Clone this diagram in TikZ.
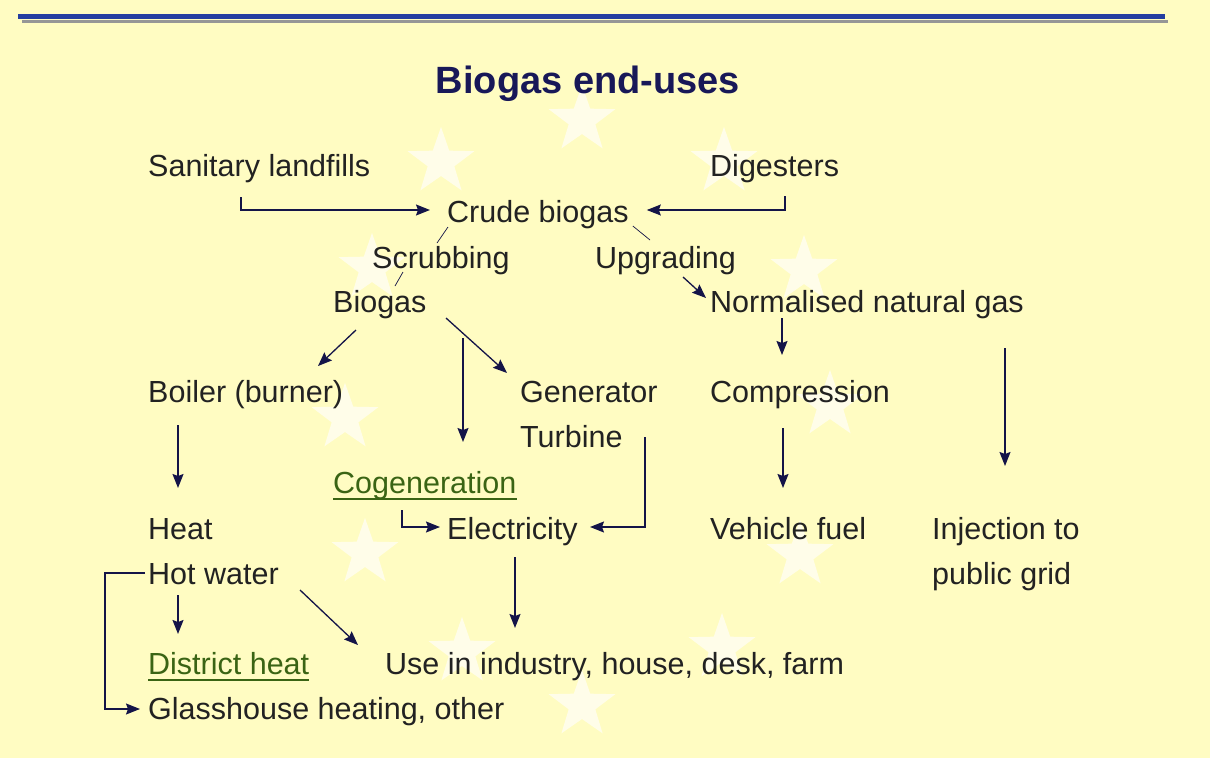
\documentclass[tikz,border=0pt]{standalone}
\usepackage{fontspec}
\setmainfont{Liberation Sans}
\usetikzlibrary{arrows.meta,shapes.geometric,calc}
\definecolor{bg}{RGB}{255,252,194}
\definecolor{txt}{RGB}{34,34,34}
\definecolor{ttl}{RGB}{24,24,88}
\definecolor{arrc}{RGB}{20,20,72}
\definecolor{grn}{RGB}{58,100,20}
\definecolor{bluel}{RGB}{36,62,160}
\definecolor{grayl}{RGB}{150,150,150}
\begin{document}
\begin{tikzpicture}[x=1pt,y=-1pt,
  lbl/.style={anchor=base west, inner sep=0pt, font=\fontsize{30.5}{36}\selectfont, text=txt},
  glbl/.style={lbl, text=grn},
  ttlstyle/.style={anchor=base, inner sep=0pt, font=\fontsize{38}{44}\selectfont\bfseries, text=ttl},
  arr/.style={draw=arrc, line width=1.3pt, -{Stealth[length=14pt,width=11pt,inset=2pt]}},
  thin/.style={draw=arrc, line width=0.7pt},
  uline/.style={draw=grn, line width=1.4pt},
  starbg/.style={star, star points=5, star point ratio=2.5, minimum size=70pt, inner sep=0pt, fill=white, draw=none, opacity=0.65}
]
\fill[bg] (0,0) rectangle (1210,758);
\useasboundingbox (0,0) rectangle (1210,758);
% top rule
\draw[grayl, line width=3pt] (22,21) -- (1168,21);
\draw[bluel, line width=5pt] (18,16) -- (1165,16);
% background stars
\foreach \p [count=\i] in {(582,120),(724,162),(804,270),(830,405),(800,555),(722,648),(582,705),(462,652),(365,553),(345,418),(372,268),(441,162)}
  \node[starbg] (star\i) at \p {};
% title
\node[ttlstyle] (title) at (588,93) {Biogas end-uses};
% labels
\node[lbl] (sl) at (148,176) {Sanitary landfills};
\node[lbl] (dg) at (710,176) {Digesters};
\node[lbl] (crude) at (447,222) {Crude biogas};
\node[lbl] (scrub) at (372,268) {Scrubbing};
\node[lbl] (upg) at (595,268) {Upgrading};
\node[lbl] (bio) at (333,312) {Biogas};
\node[lbl] (norm) at (710,312) {Normalised natural gas};
\node[lbl] (boiler) at (148,402) {Boiler (burner)};
\node[lbl] (gen) at (520,402) {Generator};
\node[lbl] (turb) at (520,447) {Turbine};
\node[lbl] (comp) at (710,402) {Compression};
\node[glbl] (cogen) at (333,493) {Cogeneration};
\node[lbl] (heat) at (148,539) {Heat};
\node[lbl] (elec) at (447,539) {Electricity};
\node[lbl] (veh) at (710,539) {Vehicle fuel};
\node[lbl] (inj) at (932,539) {Injection to};
\node[lbl] (hot) at (148,584) {Hot water};
\node[lbl] (pg) at (932,584) {public grid};
\node[glbl] (dist) at (148,674) {District heat};
\node[lbl] (use) at (385,674) {Use in industry, house, desk, farm};
\node[lbl] (glass) at (148,719) {Glasshouse heating, other};
% underlines
\draw[uline] ($(cogen.base west)+(0,6)$) -- ($(cogen.base east)+(0,6)$);
\draw[uline] ($(dist.base west)+(0,6)$) -- ($(dist.base east)+(0,6)$);
% connectors
\draw[arr] ($(sl.base west)+(93,21)$) |- ($(crude.base west)+(-17,-12)$);
\draw[arr] ($(dg.base west)+(75,20)$) |- ($(crude.base east)+(18,-12)$);
\draw[thin] ($(crude.base west)+(1,5)$) -- ($(scrub.base west)+(65,-25)$);
\draw[thin] ($(crude.base east)+(4,4)$) -- ($(upg.base west)+(55,-28)$);
\draw[thin] ($(scrub.base west)+(31,4)$) -- ($(bio.base west)+(62,-26)$);
\draw[arr] ($(upg.base west)+(88,9)$) -- ($(norm.base west)+(-4,-14)$);
\draw[arr] ($(bio.base west)+(23,18)$) -- ($(boiler.base west)+(170,-36)$);
\draw[arr] ($(bio.base west)+(113,6)$) -- ($(gen.base west)+(-13,-29)$);
\draw[arr] ($(bio.base west)+(130,26)$) -- ($(cogen.base west)+(130,-51)$);
\draw[arr] ($(norm.base west)+(72,6)$) -- ($(comp.base west)+(72,-47)$);
\draw[arr] ($(norm.base west)+(295,36)$) -- ($(inj.base west)+(73,-73)$);
\draw[arr] ($(comp.base west)+(73,26)$) -- ($(veh.base west)+(73,-51)$);
\draw[arr] ($(boiler.base west)+(30,23)$) -- ($(heat.base west)+(30,-51)$);
\draw[arr] ($(turb.base west)+(125,-10)$) |- ($(elec.base west)+(143,-12)$);
\draw[arr] ($(cogen.base west)+(69,17)$) |- ($(elec.base west)+(-7,-12)$);
\draw[arr] ($(elec.base west)+(68,18)$) -- ($(use.base west)+(130,-46)$);
\draw[arr] ($(hot.base west)+(152,6)$) -- ($(use.base west)+(-27,-29)$);
\draw[arr] ($(hot.base west)+(30,11)$) -- ($(dist.base west)+(30,-40)$);
\draw[arr] ($(hot.base west)+(-3,-11)$) -- ++(-40,0) |- ($(glass.base west)+(-8,-10)$);
\end{tikzpicture}
\end{document}
